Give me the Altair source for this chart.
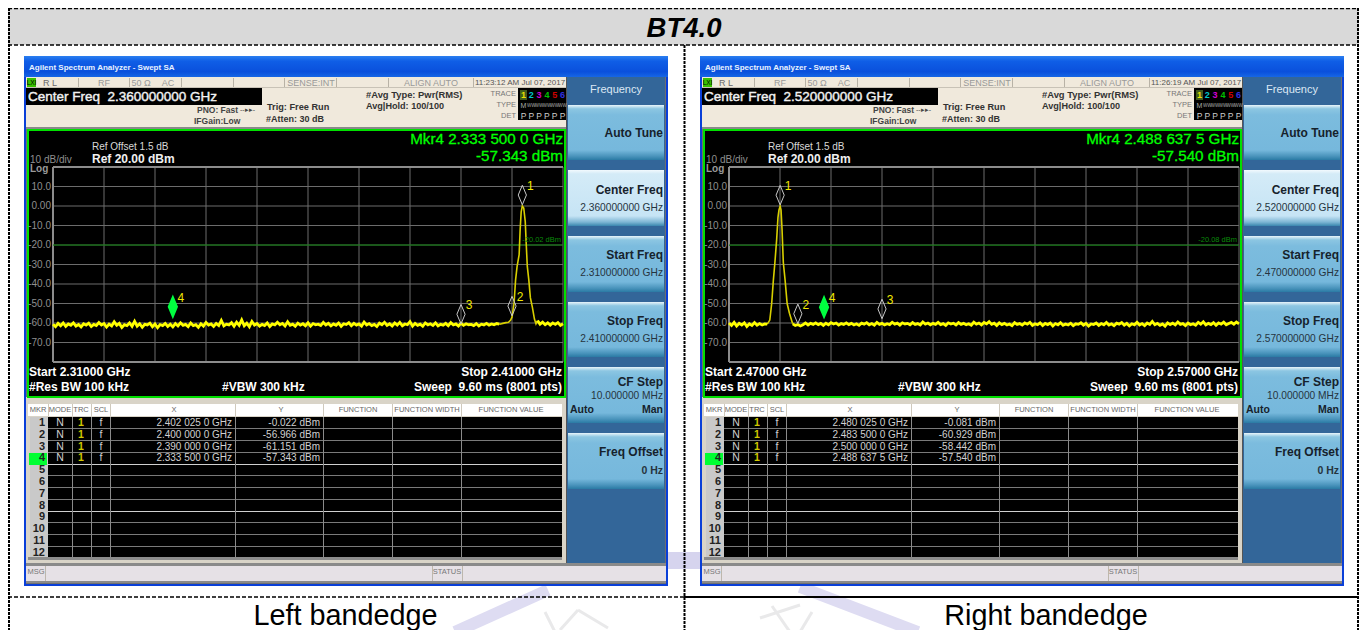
import altair as alt
import numpy as np
import pandas as pd

FONT = "Liberation Sans"

# ---------- values ----------
DB_TICKS = [10, 0, -10, -20, -30, -40, -50, -60, -70]
DB_TICK_TEXT = ["10.0", "0.00", "-10.0", "-20.0", "-30.0", "-40.0", "-50.0", "-60.0", "-70.0"]

L_GRID = [2310, 2320, 2330, 2340, 2350, 2360, 2370, 2380, 2390, 2400, 2410]
R_GRID = [2470, 2480, 2490, 2500, 2510, 2520, 2530, 2540, 2550, 2560, 2570]

L_FLOOR_A = [-60.6, -61.9, -60.2, -61.4, -60.0, -61.7, -60.5, -61.2, -59.9, -61.6, -60.8, -62.0, -60.4, -61.1, -60.1, -61.8,
             -60.7, -61.3, -59.8, -61.0, -60.3, -62.1, -60.6, -61.5, -59.4, -61.2, -60.2, -62.3, -60.9, -61.4, -60.0, -61.7,
             -59.1, -61.6, -60.4, -62.2, -60.7, -61.0, -60.1, -61.9, -60.5, -62.4, -60.8, -61.3, -60.2, -61.8, -60.6, -62.0,
             -60.3, -61.5, -59.9, -61.2, -60.7, -61.9, -60.0, -61.4, -60.9, -62.2, -60.4, -61.6, -59.7, -61.1, -60.5, -61.8,
             -60.2, -61.3, -58.7, -61.5, -60.6, -61.0, -59.8, -61.7, -59.6, -61.2, -58.4, -61.4, -60.1, -61.9, -59.2, -61.1,
             -60.3, -61.6, -60.7, -61.3, -60.0, -61.8, -60.5, -61.0, -59.6, -60.9, -60.2, -61.5, -59.4, -61.2, -60.6, -61.7,
             -60.1, -61.1, -60.4, -61.4, -59.9, -61.6, -60.3, -60.9, -60.6, -61.3, -59.7, -61.0, -60.2, -61.5, -60.5, -61.2,
             -60.0, -61.7, -60.4, -60.8, -59.8, -61.4, -60.2, -61.1, -60.5, -61.6, -59.5, -61.0, -60.3, -61.3, -60.7, -61.8,
             -60.1, -60.9, -59.6, -61.2, -60.4, -61.5, -60.0, -61.1, -59.7, -61.4, -60.5, -60.9, -59.3, -61.6, -60.2, -61.2,
             -60.6, -61.7, -60.0, -61.0, -60.4, -61.3, -59.9, -61.5, -60.7, -61.1, -60.2, -61.4, -59.8, -61.0, -60.5, -61.6,
             -60.1, -61.2, -60.4, -60.9, -60.7, -61.3, -60.3, -61.5, -60.6, -61.0, -60.2, -61.1, -60.5, -60.9, -60.3, -60.6]
L_PEAK_F = [2397.6, 2398.2, 2398.8, 2399.3, 2399.7, 2400.0, 2400.4, 2400.7, 2401.0, 2401.4, 2401.6, 2401.8, 2402.025,
            2402.3, 2402.6, 2402.8, 2403.0, 2403.3, 2403.6, 2404.0, 2404.4, 2404.7]
L_PEAK_DB = [-60.6, -60.2, -59.8, -59.6, -58.6, -57.0, -50.0, -38.0, -31.0, -25.0, -12.0, -3.0, -0.02,
             -1.0, -8.0, -20.0, -31.0, -38.0, -47.0, -52.0, -58.0, -60.4]
L_FLOOR_B = [-58.8, -60.6, -59.6, -60.9, -59.9, -61.1, -60.0, -60.7, -59.8, -61.2, -60.4]

R_FLOOR_A = [-60.0, -61.3, -59.7, -61.6, -60.2, -61.0, -59.9, -61.8, -60.4, -61.2, -59.8, -61.1, -60.3, -61.0, -60.5, -60.6]
R_PEAK_F = [2478.0, 2478.37, 2478.7, 2479.0, 2479.35, 2479.6, 2479.8, 2480.025, 2480.2, 2480.4, 2480.65, 2481.0, 2481.4,
            2481.85, 2482.3]
R_PEAK_DB = [-58.5, -50.0, -38.0, -29.0, -17.0, -6.0, -2.0, -0.08, -2.0, -12.0, -29.0, -38.0, -50.0, -55.0, -58.8]
R_FLOOR_B = [-60.4, -61.3, -60.8, -61.5, -60.9, -60.0, -61.0, -60.2, -60.7, -59.9, -60.8, -60.2, -61.2, -60.1, -60.9, -59.8,
             -60.5, -60.0, -61.1, -60.3, -60.7, -59.9, -60.8, -60.2, -61.0, -60.4, -61.2, -60.1, -60.6, -59.8, -60.9, -60.3,
             -61.1, -59.7, -60.7, -60.2, -61.0, -60.4, -60.8, -59.6, -60.6, -60.1, -61.1, -59.9, -60.5, -60.2, -60.9, -59.8,
             -60.7, -60.3, -61.0, -59.5, -60.6, -60.0, -60.9, -60.2, -60.7, -59.7, -60.8, -60.3, -61.2, -59.9, -60.5, -60.1,
             -61.0, -59.8, -60.7, -60.2, -60.9, -60.4, -61.1, -59.6, -60.6, -60.0, -61.0, -59.7, -60.4, -59.3, -60.7, -60.1,
             -61.3, -59.9, -60.8, -60.2, -61.0, -60.5, -61.4, -59.8, -60.7, -60.3, -61.1, -60.0, -60.6, -59.7, -61.2, -60.4,
             -60.9, -59.9, -61.3, -60.2, -60.8, -60.0, -61.5, -60.3, -60.9, -59.8, -61.2, -60.5, -61.0, -60.1, -61.4, -60.4,
             -60.7, -59.9, -61.1, -60.2, -61.6, -60.5, -60.8, -60.0, -61.2, -60.3, -60.9, -59.7, -61.0, -60.4, -61.4, -60.1,
             -60.6, -59.8, -61.1, -60.2, -61.5, -60.4, -60.9, -59.6, -61.0, -60.3, -61.3, -60.0, -60.7, -59.2, -60.9, -60.2,
             -61.2, -60.5, -61.6, -59.9, -60.8, -60.1, -61.0, -59.5, -60.7, -60.3, -61.3, -60.0, -60.9, -60.4, -61.1, -59.7,
             -60.6, -59.4, -61.0, -60.2, -60.8, -59.8, -61.2, -60.0, -60.6, -59.6, -60.9, -60.3, -59.7, -60.6, -59.5, -60.4]

L_MKR_F = [2402.025, 2400.0, 2390.0, 2333.5]
L_MKR_DB = [-0.022, -56.966, -61.151, -57.343]
R_MKR_F = [2480.025, 2483.5, 2500.0, 2488.6375]
R_MKR_DB = [-0.081, -60.929, -58.442, -57.540]
MKR_NAMES = ["1", "2", "3", "4"]

L_TEXT = dict(center="Center Freq\u00a0\u00a02.360000000 GHz", time="11:23:12 AM Jul 07, 2017",
              mkr1="Mkr4 2.333 500 0 GHz", mkr2="-57.343 dBm", dl="-20.02 dBm", dl_db=-20.02,
              start="Start 2.31000 GHz", stop="Stop 2.41000 GHz",
              cf="2.360000000 GHz", sf="2.310000000 GHz", ef="2.410000000 GHz",
              xs=["2.402 025 0 GHz", "2.400 000 0 GHz", "2.390 000 0 GHz", "2.333 500 0 GHz"],
              ys=["-0.022 dBm", "-56.966 dBm", "-61.151 dBm", "-57.343 dBm"])
R_TEXT = dict(center="Center Freq\u00a0\u00a02.520000000 GHz", time="11:26:19 AM Jul 07, 2017",
              mkr1="Mkr4 2.488 637 5 GHz", mkr2="-57.540 dBm", dl="-20.08 dBm", dl_db=-20.08,
              start="Start 2.47000 GHz", stop="Stop 2.57000 GHz",
              cf="2.520000000 GHz", sf="2.470000000 GHz", ef="2.570000000 GHz",
              xs=["2.480 025 0 GHz", "2.483 500 0 GHz", "2.500 000 0 GHz", "2.488 637 5 GHz"],
              ys=["-0.081 dBm", "-60.929 dBm", "-58.442 dBm", "-57.540 dBm"])

# ---------- layout (page pixels; the chart origin sits at the page margin) ----------
M = 8
Y_SCALE = alt.Scale(domain=[-80, 20], range=[362 - M, 167 - M], nice=False, zero=False)


def X_SCALE(lo, dx):
    return alt.Scale(domain=[lo, lo + 100], range=[53 + dx - M, 563 + dx - M], nice=False, zero=False)


def rects(rows):
    df = pd.DataFrame(rows, columns=["x", "y", "x2", "y2", "c"])
    for k in ["x", "x2", "y", "y2"]:
        df[k] = df[k] - M
    return alt.Chart(df).mark_rect(strokeWidth=0).encode(
        x=alt.X("x:Q", scale=None, axis=None), x2="x2:Q",
        y=alt.Y("y:Q", scale=None, axis=None), y2="y2:Q",
        color=alt.Color("c:N", scale=None, legend=None))


def grad_rects(rows, stops, horizontal=False):
    df = pd.DataFrame(rows, columns=["x", "y", "x2", "y2"])
    for k in ["x", "x2", "y", "y2"]:
        df[k] = df[k] - M
    g = alt.Gradient(gradient="linear",
                     stops=[alt.GradientStop(color=c, offset=o) for o, c in stops],
                     x1=0, y1=0, x2=1 if horizontal else 0, y2=0 if horizontal else 1)
    return alt.Chart(df).mark_rect(color=g, strokeWidth=0).encode(
        x=alt.X("x:Q", scale=None, axis=None), x2="x2:Q",
        y=alt.Y("y:Q", scale=None, axis=None), y2="y2:Q")


def texts(rows, align="left", weight="normal", style="normal", baseline="middle", semi=0):
    df = pd.DataFrame(rows, columns=["x", "y", "t", "s", "c"])
    df["x"] = df["x"] - M
    df["y"] = df["y"] - M
    enc = dict(x=alt.X("x:Q", scale=None, axis=None),
               y=alt.Y("y:Q", scale=None, axis=None),
               text="t:N",
               size=alt.Size("s:Q", scale=None, legend=None),
               color=alt.Color("c:N", scale=None, legend=None))
    kw = dict(align=align, baseline=baseline, font=FONT, fontWeight=weight, fontStyle=style)
    if semi:
        enc["stroke"] = alt.Stroke("c:N", scale=None, legend=None)
        kw["strokeWidth"] = semi
    return alt.Chart(df).mark_text(**kw).encode(**enc)


def strokes(rows, width, dash=None, color="#000000"):
    df = pd.DataFrame(rows, columns=["x", "y", "x2", "y2"])
    for k in ["x", "x2", "y", "y2"]:
        df[k] = df[k] - M
    kw = dict(strokeWidth=width, color=color)
    if dash:
        kw["strokeDash"] = dash
    return alt.Chart(df).mark_rule(**kw).encode(
        x=alt.X("x:Q", scale=None, axis=None), x2="x2:Q",
        y=alt.Y("y:Q", scale=None, axis=None), y2="y2:Q")


BTN = [(0.0, "#e8f4fa"), (0.07, "#8cc6e2"), (0.18, "#7cbcde"), (0.82, "#76b8dc"), (0.93, "#4a94bc"), (1.0, "#2a7aa4")]
BTN_ON = [(0.0, "#f2f9fd"), (0.07, "#d4ebf7"), (0.82, "#c6e4f5"), (0.93, "#7eb6d4"), (1.0, "#3a86ae")]
BEIGE = "#f0e9dc"


def panel(dx, T, lo, grid, floor_a, peak_f, peak_db, floor_b, floor_a_start, floor_b_start, mk_f, mk_db):
    X = X_SCALE(lo, dx)
    xf = lambda name: alt.X(name + ":Q", scale=X, axis=None)
    yd = lambda name: alt.Y(name + ":Q", scale=Y_SCALE, axis=None)

    r = []
    r += [(24, 56, 668, 586, "#0a3fd8")]
    r += [(26, 77, 666, 584, "#6f6f6f")]
    r += [(26, 77, 566, 129, BEIGE)]
    r += [(26, 127, 566, 129, "#8a8a8a")]
    r += [(26, 397, 566, 563, "#d9d4c8")]
    r += [(27, 129, 566, 398, "#00e000")]
    r += [(29, 131, 564, 396, "#000000")]
    r += [(567, 77, 665, 563, "#336699")]
    r += [(566, 77, 567, 563, "#555555")]
    # top status dividers
    for x in [78, 129, 181, 233, 284, 336, 388, 473]:
        r += [(x, 78, x + 1, 88, "#b8b2a6")]
    r += [(26, 87, 566, 88, "#c8c2b6")]
    r += [(26, 88, 262, 105, "#000000")]
    r += [(27, 78, 36, 87, "#39c000")]
    r += [(518, 88, 566, 120, "#000000"), (520, 90, 527, 100, "#3d5a1c")]
    # table
    r += [(28, 404, 562, 416, "#ffffff")]
    for x in [48, 72, 91, 110, 235, 323, 392, 461]:
        r += [(x, 404, x + 1, 416, "#cfc9bc")]
    r += [(30, 417, 48, 557, "#c9c9c9")]
    r += [(48, 417, 562, 557, "#000000")]
    r += [(29, 453, 47, 465, "#00ff33")]
    for i in range(12):
        yy = int(round(428.3 + 11.75 * i))
        col = "#d0d0d0" if i in (3, 7) else "#7a7a7a"
        r += [(48, yy, 562, yy + 1, col)]
    for x in [72, 91, 110, 235, 323, 392, 461]:
        r += [(x, 417, x + 1, 557, "#8a8a8a")]
    r += [(28, 557, 562, 560, "#8c8c8c")]
    # message bar
    r += [(26, 566, 666, 582, "#e6e1e6"), (26, 563, 666, 566, "#8a8a8a"), (26, 581, 666, 583, "#8a8a8a")]
    for x in [45, 432, 462]:
        r += [(x, 566, x + 1, 581, "#bdb7ad")]
    r += [(570, 416, 592, 417, "#1a2a3a")]
    r = [(a + dx, b, c + dx, d, e) for a, b, c, d, e in r]

    layers = [rects(r[:1])]
    layers.append(grad_rects([(24 + dx, 56, 668 + dx, 77)],
                             [(0.0, "#2b7ff0"), (0.25, "#0f5ee6"), (0.75, "#0a50dc"), (1.0, "#1766e4")]))
    layers.append(rects(r[1:]))
    normal = [(y0, y1) for y0, y1 in [(105, 160), (236, 292), (302, 357), (367, 423), (433, 489)]]
    layers.append(grad_rects([(568 + dx, a, 664 + dx, b) for a, b in normal], BTN))
    layers.append(grad_rects([(568 + dx, 170, 664 + dx, 226)], BTN_ON))

    # spectrum grid, drawn through the frequency and level scales
    gdf = pd.DataFrame({"f": grid})
    ddf = pd.DataFrame({"db": DB_TICKS, "t": DB_TICK_TEXT})
    g = alt.Chart(gdf).mark_rule(color="#6c6c6c", strokeWidth=1).encode(
        x=xf("f"), y=alt.value(167 - M), y2=alt.value(362 - M))
    h = alt.Chart(ddf).mark_rule(color="#6c6c6c", strokeWidth=1).encode(
        y=yd("db"), x=alt.value(53 + dx - M), x2=alt.value(563 + dx - M))
    edges = alt.Chart(pd.DataFrame({"db": [20, -80]})).mark_rule(color="#8c8c8c", strokeWidth=2).encode(
        y=yd("db"), x=alt.value(53 + dx - M), x2=alt.value(563 + dx - M))
    ledge = alt.Chart(pd.DataFrame({"f": [lo]})).mark_rule(color="#8c8c8c", strokeWidth=2).encode(
        x=xf("f"), y=alt.value(167 - M), y2=alt.value(362 - M))
    tick_t = alt.Chart(ddf).mark_text(align="right", baseline="middle", font=FONT, fontSize=10, color="#8f8f8f").encode(
        y=yd("db"), x=alt.value(51 + dx - M), text="t:N")
    dl = alt.Chart(pd.DataFrame({"db": [T["dl_db"]]})).mark_rule(color="#007a00", strokeWidth=1).encode(
        y=yd("db"), x=alt.value(53 + dx - M), x2=alt.value(563 + dx - M))
    layers += [g, h, edges, ledge, tick_t, dl]

    # trace
    fa = pd.DataFrame({"f": floor_a_start + 0.5 * np.arange(len(floor_a)), "db": floor_a})
    fb = pd.DataFrame({"f": floor_b_start + 0.5 * np.arange(len(floor_b)), "db": floor_b})
    pk = pd.DataFrame({"f": peak_f, "db": peak_db})
    joined = pd.concat([fa.tail(1), pk, fb.head(1)])
    layers.append(alt.Chart(joined).mark_line(color="#d8cf00", strokeWidth=1.6).encode(x=xf("f"), y=yd("db")))
    for d in (fa, fb):
        layers.append(alt.Chart(d).mark_line(color="#ffff00", strokeWidth=2.8).encode(x=xf("f"), y=yd("db")))

    # markers sit above their readout point
    mk = pd.DataFrame({"f": mk_f, "db": mk_db, "n": MKR_NAMES})
    path = "M0,-1L0.42,0L0,1L-0.42,0Z"
    layers.append(alt.Chart(mk.iloc[:3]).mark_point(shape=path, size=380, filled=False, stroke="#c8c8c8",
                                                    strokeWidth=1, yOffset=-11, opacity=1).encode(x=xf("f"), y=yd("db")))
    layers.append(alt.Chart(mk.iloc[3:]).mark_point(shape=path, size=380, filled=True, fill="#00ff40",
                                                    stroke="#00ff40", yOffset=-11, opacity=1).encode(x=xf("f"), y=yd("db")))
    layers.append(alt.Chart(mk).mark_text(color="#f0e800", font=FONT, fontSize=12, dx=8, dy=-20,
                                          baseline="middle").encode(x=xf("f"), y=yd("db"), text="n:N"))

    # texts
    Gy, Ly, Bk, Wh, Gn = "#9a9a9a", "#d0d0d0", "#111111", "#ffffff", "#00ff00"
    left, right, center, lbold, rbold, cbold, semi, semir = [], [], [], [], [], [], [], []
    center += [(50, 82.5, "R L", 9, "#6a6a6a"), (104, 82.5, "RF", 9, "#999999"), (141, 82.5, "50 Ω", 9, "#999999"),
               (168, 82.5, "AC", 9, "#999999"), (311, 82.5, "SENSE:INT", 9, "#999999"), (431, 82.5, "ALIGN AUTO", 9, "#999999"),
               (520, 82.5, T["time"], 8, "#555555")]
    lbold += [(29, 68, "Agilent Spectrum Analyzer - Swept SA", 8, "#e8f2ff")]
    center += [(31.5, 82.5, "LXI", 6.5, "#000000")]
    semi += [(28, 97, T["center"], 13.5, "#f2f2f2")]
    lbold += [(197, 110, "PNO: Fast", 8.5, "#444444"), (194, 120.5, "IFGain:Low", 8.5, "#444444"),
              (267, 107, "Trig: Free Run", 9.2, "#333333"), (266, 119, "#Atten: 30 dB", 9, "#333333"),
              (366, 95, "#Avg Type: Pwr(RMS)", 9.4, "#333333"), (366, 106, "Avg|Hold: 100/100", 9.1, "#333333")]
    left += [(240, 110, "--▸▸-", 7, "#444444")]
    right += [(516, 94, "TRACE", 7.5, "#777777"), (516, 105, "TYPE", 7.5, "#777777"), (516, 116, "DET", 7.5, "#777777")]
    for i, (ch, col) in enumerate(zip("123456", ["#e8e000", "#00c8c8", "#d000d0", "#00c000", "#d00000", "#3030e0"])):
        cbold += [(523.5 + 7.8 * i, 95, ch, 9, col)]
        center += [(523.5 + 7.8 * i, 116, "P", 8.5, "#cccccc")]
        center += [(523.5 + 7.8 * i, 105.5, "M" if i == 0 else "WW", 7 if i == 0 else 4.5, "#aaaaaa")]
    left += [(92, 147, "Ref Offset 1.5 dB", 10, "#d8d8d8"), (30, 160, "10 dB/div", 10, "#8f8f8f")]
    lbold += [(92, 159, "Ref 20.00 dBm", 12, "#f0f0f0"), (30, 169, "Log", 10, "#9a9a9a")]
    semir += [(563, 139, T["mkr1"], 15.2, Gn), (563, 156, T["mkr2"], 15.2, Gn)]
    right += [(561, 240, T["dl"], 7.5, "#0a8a0a")]
    lbold += [(29, 372, T["start"], 12, Wh), (29, 387, "#Res BW 100 kHz", 12, Wh), (222, 387, "#VBW 300 kHz", 12, Wh)]
    rbold += [(562, 372, T["stop"], 12, Wh), (562, 387, "Sweep\u00a0\u00a09.60 ms (8001 pts)", 12, Wh)]
    for x, s in [(38, "MKR"), (60, "MODE"), (81, "TRC"), (101, "SCL"), (174, "X"), (281, "Y"), (358, "FUNCTION"),
                 (427, "FUNCTION WIDTH"), (511, "FUNCTION VALUE")]:
        center.append((x, 410, s, 7.5, "#666666"))
    for i in range(12):
        yy = 423 + 11.8 * i
        rbold.append((45, yy, str(i + 1), 11, "#222222"))
    for i in range(4):
        yy = 423 + 11.8 * i
        center += [(60, yy, "N", 10.5, Ly), (101, yy, "f", 10.5, Ly)]
        cbold += [(81, yy, "1", 10.5, "#d0c800")]
        right += [(232, yy, T["xs"][i], 10, Ly), (320, yy, T["ys"][i], 10, Ly)]
    center += [(36, 572, "MSG", 7.5, "#777777"), (447, 572, "STATUS", 7.5, "#777777")]
    # soft keys
    center += [(616, 90, "Frequency", 11, "#dce8f4")]
    rbold += [(663, 133, "Auto Tune", 12, "#16222c"), (663, 190, "Center Freq", 12, "#16222c"),
              (663, 255, "Start Freq", 12, "#16222c"), (663, 321, "Stop Freq", 12, "#16222c"),
              (663, 382, "CF Step", 12, "#16222c"), (663, 452, "Freq Offset", 12, "#16222c")]
    right += [(663, 208, T["cf"], 10.2, "#26343e"), (663, 273, T["sf"], 10.2, "#26343e"),
              (663, 339, T["ef"], 10.2, "#26343e"), (663, 396, "10.000000 MHz", 10.2, "#26343e")]
    lbold += [(570, 410, "Auto", 10.5, "#16222c")]
    rbold += [(663, 410, "Man", 10.5, "#16222c"), (663, 471, "0 Hz", 10.5, "#26343e")]

    sh = lambda rows: [(a + dx, b, c, d, e) for a, b, c, d, e in rows]
    layers += [texts(sh(left)), texts(sh(right), align="right"), texts(sh(center), align="center"),
               texts(sh(lbold), weight="bold"), texts(sh(rbold), align="right", weight="bold"),
               texts(sh(cbold), align="center", weight="bold"),
               texts(sh(semi), semi=0.4), texts(sh(semir), align="right", semi=0.3)]
    return layers


EDGE = 1359  # the drawing stops here: the page keeps an 8px margin on the right
layers = []
# page furniture behind the screenshots
layers.append(rects([(8, 8, EDGE, 45, "#d9d9d9")]))
layers.append(rects([(668, 552, 700, 569, "#d6d4ee")]))
layers.append(strokes([(455, 632, 548, 590)], 12, color="#dedcf2"))
layers.append(strokes([(800, 587, 918, 632)], 12, color="#dedcf2"))
layers.append(strokes([(545, 612, 555, 632), (560, 630, 578, 610), (578, 610, 608, 628),
                       (760, 618, 800, 605), (772, 606, 790, 632), (800, 632, 812, 612)], 3, color="#e9e9ea"))
layers.append(strokes([(8, 8.5, EDGE, 8.5), (8, 45, EDGE, 45), (8, 597, 684, 597)], 1.5, dash=[4, 2]))
layers.append(strokes([(684, 597, EDGE, 597)], 2))
layers.append(strokes([(9, 8, 9, 630), (684.5, 45, 684.5, 630), (EDGE - 1, 8, EDGE - 1, 630)], 2, dash=[3, 1]))

layers += panel(0, L_TEXT, 2310, L_GRID, L_FLOOR_A, L_PEAK_F, L_PEAK_DB, L_FLOOR_B, 2310.0, 2405.0, L_MKR_F, L_MKR_DB)
layers += panel(676, R_TEXT, 2470, R_GRID, R_FLOOR_A, R_PEAK_F, R_PEAK_DB, R_FLOOR_B, 2470.0, 2482.5, R_MKR_F, R_MKR_DB)

layers.append(texts([(684, 37, "BT4.0", 27.5, "#000000")], align="center", weight="bold", style="italic", baseline="alphabetic"))
layers.append(texts([(345.5, 625, "Left bandedge", 28.8, "#000000"), (1046, 625, "Right bandedge", 28.8, "#000000")],
                    align="center", baseline="alphabetic"))

chart = alt.layer(*layers).resolve_scale(x="independent", y="independent").properties(
    width=1351, height=622, padding=0, background="#ffffff",
    autosize=alt.AutoSizeParams(type="none")
).configure_view(strokeWidth=0)

chart.save("out.html", embed_options={"renderer": "svg", "actions": False})
